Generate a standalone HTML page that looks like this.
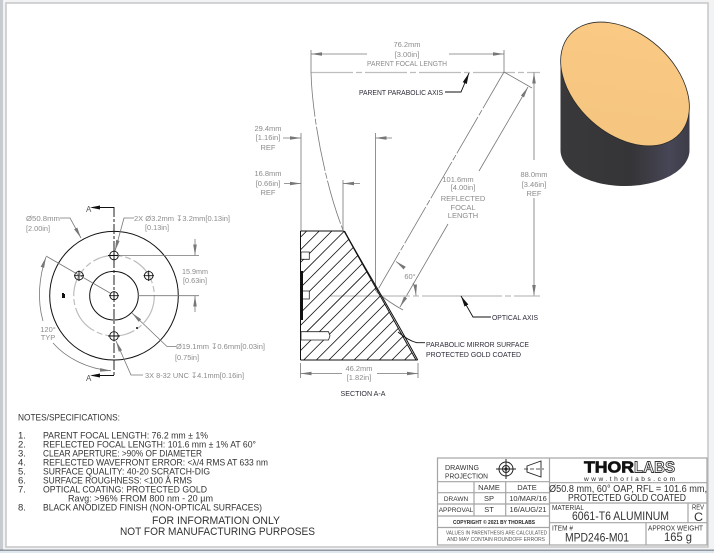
<!DOCTYPE html>
<html><head><meta charset="utf-8"><style>
html,body{margin:0;padding:0;background:#fff}
svg{display:block}
text{font-family:"Liberation Sans",sans-serif}
.d{fill:#8b8b8b;font-size:7.5px}
.k{fill:#2c2c3a;font-size:7.5px}
.n{fill:#333;font-size:9.5px}
.t{fill:#333;font-size:7.5px}
.b{fill:#333;font-size:12px}
.g{stroke:#777;stroke-width:.8;fill:none}
.l{stroke:#111;stroke-width:.9;fill:none}
.c{stroke:#bdbdbd;stroke-width:1.2;fill:none}
.tb{stroke:#a5a5a5;stroke-width:1.2;fill:none}
.soft{filter:blur(.3px)}
</style></head><body>
<svg width="714" height="553" viewBox="0 0 714 553" xmlns="http://www.w3.org/2000/svg">
<defs>
<marker id="a" markerWidth="12" markerHeight="6" refX="11" refY="3" orient="auto-start-reverse" markerUnits="userSpaceOnUse"><path d="M0 1.2L11 3L0 4.8Z" fill="#777"/></marker>
<marker id="kk" markerWidth="12" markerHeight="6" refX="11" refY="3" orient="auto-start-reverse" markerUnits="userSpaceOnUse"><path d="M0 .8L11 3L0 5.2Z" fill="#111"/></marker>
<linearGradient id="body" x1="0" x2="1"><stop offset="0" stop-color="#39393b"/><stop offset=".55" stop-color="#353537"/><stop offset=".85" stop-color="#474656"/><stop offset="1" stop-color="#3c3b47"/></linearGradient>
<linearGradient id="gold" x1="0" x2="1" y1="0" y2="1"><stop offset="0" stop-color="#fbca84"/><stop offset="1" stop-color="#f4c57f"/></linearGradient>
<clipPath id="sec"><path d="M301 231H344L416 360H301Z"/></clipPath>
</defs>

<!-- window frame -->
<rect x="0" y="0" width="714" height="553" fill="#f2f3f5"/>
<rect x="0" y="0" width="3" height="553" fill="#c8ccd0"/>
<rect x="6" y="3" width="702" height="544" fill="#fff" stroke="#c6c6c6" stroke-width="1.5"/>
<rect x="0" y="549.7" width="714" height="1" fill="#555c66"/>
<rect x="0" y="550.7" width="714" height="2.3" fill="#dfe7ef"/>

<g class="soft">
<!-- front view -->
<circle cx="114" cy="295.7" r="40.3" class="c" stroke-dasharray="30 3 6 3"/>
<circle cx="114" cy="295.7" r="64.3" fill="none" stroke="#111" stroke-width="1"/>
<circle cx="114" cy="295.7" r="24.3" fill="none" stroke="#111" stroke-width="1"/>
<path d="M114 207V375.5" stroke="#222" stroke-width="1" stroke-dasharray="10 2 3 2" fill="none"/>
<path d="M114 207.5H92M114 375.5H92" stroke="#111" stroke-width="1" fill="none"/>
<path d="M90 207.5L100 205.5V209.5ZM90 375.5L100 373.5V377.5Z" fill="#111"/>
<g fill="none" stroke="#111" stroke-width=".9">
<circle cx="114" cy="255.5" r="4.3"/><path d="M108 255.5H120M114 250V261"/>
<circle cx="114" cy="336" r="4.3"/><path d="M108 336H120M114 330.5V341.5"/>
<circle cx="79" cy="275.7" r="4.3"/><path d="M74 275.7H84M79 270.5V281"/>
<circle cx="148.7" cy="275.7" r="4.3"/><path d="M143.5 275.7H154M148.7 270.5V281"/>
<circle cx="114" cy="295.7" r="4"/><path d="M109 295.7H119M114 291V300.5"/>
</g>
<path d="M60 218H70L81 238" class="g" marker-end="url(#a)"/>
<path d="M134 218H124L115 251" class="g" marker-end="url(#a)"/>
<path d="M118 255.5H199M138 295.7H199" class="g"/>
<path d="M195 239V255.5" class="g" marker-end="url(#a)"/>
<path d="M195 312V295.7" class="g" marker-end="url(#a)"/>
<path d="M176 346.5H167L132 313" class="g" marker-end="url(#a)"/>
<path d="M143 375H131L116 341" class="g" marker-end="url(#a)"/>
<path d="M110 293L46 256" class="g"/>
<path d="M46 257C39 277 37 300 43 321" class="g" marker-start="url(#a)"/>
<path d="M53 343C66 358 88 369 111 370.7" class="g" marker-end="url(#a)"/>
<path d="M62 293h2v1h1v4h-3z" fill="#111"/><circle cx="137" cy="328" r="1" fill="#111"/>
<text x="86" y="212" font-size="8" fill="#555">A</text>
<text x="86" y="381" font-size="8" fill="#555">A</text>
<text x="26" y="221" class="d" textLength="34" lengthAdjust="spacingAndGlyphs">Ø50.8mm</text>
<text x="26" y="231" class="d" textLength="24" lengthAdjust="spacingAndGlyphs">[2.00in]</text>
<text x="134" y="221" class="d" textLength="96" lengthAdjust="spacingAndGlyphs">2X  Ø3.2mm ↧3.2mm[0.13in]</text>
<text x="145" y="230" class="d" textLength="24" lengthAdjust="spacingAndGlyphs">[0.13in]</text>
<text x="182" y="274" class="d" textLength="26" lengthAdjust="spacingAndGlyphs">15.9mm</text>
<text x="183" y="283" class="d" textLength="24" lengthAdjust="spacingAndGlyphs">[0.63in]</text>
<text x="176" y="349" class="d" textLength="89" lengthAdjust="spacingAndGlyphs">Ø19.1mm ↧0.6mm[0.03in]</text>
<text x="175" y="360" class="d" textLength="24" lengthAdjust="spacingAndGlyphs">[0.75in]</text>
<text x="145" y="378" class="d" textLength="99" lengthAdjust="spacingAndGlyphs">3X 8-32 UNC ↧4.1mm[0.16in]</text>
<text x="48" y="332" class="d" text-anchor="middle">120°</text>
<text x="48" y="340" class="d" text-anchor="middle">TYP</text>

<!-- top dimensions -->
<path d="M311 50V72M504 50V72" class="g"/>
<path d="M367 54H311" class="g" marker-end="url(#a)"/>
<path d="M449 54H504" class="g" marker-end="url(#a)"/>
<path d="M311 72.5H540" class="c" stroke-dasharray="42 3 6 3"/>
<path d="M311 72C312 115 325 185 343 230" class="g" stroke-dasharray="45 2 6 2"/>
<text x="407" y="47" class="d" text-anchor="middle">76.2mm</text>
<text x="407" y="57" class="d" text-anchor="middle">[3.00in]</text>
<text x="407" y="66" class="d" text-anchor="middle" textLength="80" lengthAdjust="spacingAndGlyphs">PARENT FOCAL LENGTH</text>
<text x="359" y="95" class="k" textLength="84" lengthAdjust="spacingAndGlyphs">PARENT PARABOLIC AXIS</text>
<path d="M445 92H461L469 73" class="l" marker-end="url(#kk)"/>

<!-- REF dims -->
<path d="M301 133V231M375.5 133V291M343 180V230" class="g"/>
<path d="M283 138H301" class="g" marker-end="url(#a)"/>
<path d="M284 183.5H301" class="g" marker-end="url(#a)"/>
<path d="M392 138H375.5" class="g" marker-end="url(#a)"/>
<path d="M360 183.5H343" class="g" marker-end="url(#a)"/>
<text x="268" y="131" class="d" text-anchor="middle">29.4mm</text>
<text x="268" y="140" class="d" text-anchor="middle">[1.16in]</text>
<text x="268" y="150" class="d" text-anchor="middle">REF</text>
<text x="268" y="176" class="d" text-anchor="middle">16.8mm</text>
<text x="268" y="186" class="d" text-anchor="middle">[0.66in]</text>
<text x="268" y="195" class="d" text-anchor="middle">REF</text>

<!-- reflected axis -->
<path d="M504 72L376.5 292" class="g" stroke-dasharray="42 2 6 2"/>
<path d="M504 72L532 88M376.5 292C385 299 394 305 403 310" class="g"/>
<path d="M479 171L528 87" class="g" marker-end="url(#a)"/>
<path d="M448 224L400 307" class="g" marker-end="url(#a)"/>
<text x="458" y="182" class="d" text-anchor="middle">101.6mm</text>
<text x="463" y="190" class="d" text-anchor="middle">[4.00in]</text>
<text x="463" y="201" class="d" text-anchor="middle">REFLECTED</text>
<text x="463" y="210" class="d" text-anchor="middle">FOCAL</text>
<text x="463" y="218" class="d" text-anchor="middle">LENGTH</text>

<!-- 88mm -->
<path d="M534 160V72.5" class="g" marker-end="url(#a)"/>
<path d="M534 198V296" class="g" marker-end="url(#a)"/>
<text x="534" y="177" class="d" text-anchor="middle">88.0mm</text>
<text x="534" y="187" class="d" text-anchor="middle">[3.46in]</text>
<text x="534" y="196" class="d" text-anchor="middle">REF</text>

<!-- optical axis -->
<path d="M330 296H540" class="c" stroke-dasharray="80 3 6 3"/>
<path d="M401 266A40 40 0 0 0 396 261.4" class="g" marker-end="url(#a)"/>
<path d="M413 283A40 40 0 0 1 416 295.5" class="g" marker-end="url(#a)"/>
<text x="410" y="279" class="d" text-anchor="middle" font-size="7">60°</text>
<path d="M491 317H473L461 296" class="l" marker-end="url(#kk)"/>
<text x="492" y="320" class="k" textLength="46" lengthAdjust="spacingAndGlyphs">OPTICAL AXIS</text>

<!-- section -->
<g clip-path="url(#sec)" stroke="#111" stroke-width=".8" fill="none">
<path d="M306.7 231L177.7 360M319.3 231L190.3 360M331.9 231L202.9 360M344.5 231L215.5 360M357.1 231L228.1 360M369.7 231L240.7 360M382.3 231L253.3 360M394.9 231L265.9 360M407.5 231L278.5 360M420.1 231L291.1 360M432.7 231L303.7 360M445.3 231L316.3 360M457.9 231L328.9 360M470.5 231L341.5 360M483.1 231L354.1 360M495.7 231L366.7 360M508.3 231L379.3 360M520.9 231L391.9 360M533.5 231L404.5 360"/>
</g>
<path d="M344 231L416 360" stroke="#111" stroke-width="1" fill="none"/>
<path d="M344.5 231C360 260 385 300 417.7 360" stroke="#111" stroke-width="1" fill="none"/>
<path d="M300.5 231H344M300.5 360H417.7M300.5 231V360" stroke="#111" stroke-width="1" fill="none"/>
<path d="M301 252H309.3V259.3H301ZM301 291H309.3V299H301ZM301 331.7H328.5L330 335.8L328.5 340H301Z" fill="#fff" stroke="#222" stroke-width=".8"/>
<rect x="300.5" y="271" width="2.5" height="49" fill="#111"/>
<path d="M300.5 363V378M418 363V378" class="g"/>
<path d="M342 373.5H300.5" class="g" marker-end="url(#a)"/>
<path d="M377 373.5H418" class="g" marker-end="url(#a)"/>
<text x="359" y="371" class="d" text-anchor="middle">46.2mm</text>
<text x="359" y="380" class="d" text-anchor="middle">[1.82in]</text>
<text x="363" y="396" class="k" text-anchor="middle" textLength="45" lengthAdjust="spacingAndGlyphs">SECTION A-A</text>
<path d="M398 332C404 337 410 341 416.7 342.7H425" class="l"/>
<text x="426" y="347" class="k" textLength="103" lengthAdjust="spacingAndGlyphs">PARABOLIC MIRROR SURFACE</text>
<text x="426" y="357" class="k" textLength="95" lengthAdjust="spacingAndGlyphs">PROTECTED GOLD COATED</text>

<!-- mirror render -->
<path d="M560.5 60V150C560.5 170 589 186 625 186S689.5 170 689.5 150V105L625 60Z" fill="url(#body)"/>
<ellipse cx="625" cy="84" rx="74" ry="50" transform="rotate(42 625 84)" fill="url(#gold)" stroke="#2a2a2a" stroke-width=".8"/>

<!-- notes -->
<text x="18" y="420.5" class="n" textLength="102" lengthAdjust="spacingAndGlyphs">NOTES/SPECIFICATIONS:</text>
<g class="n">
<text x="18" y="438.5" class="n">1.</text><text x="43" y="438.5" class="n" textLength="165" lengthAdjust="spacingAndGlyphs">PARENT FOCAL LENGTH: 76.2 mm ± 1%</text>
<text x="18" y="447.5" class="n">2.</text><text x="43" y="447.5" class="n" textLength="213" lengthAdjust="spacingAndGlyphs">REFLECTED FOCAL LENGTH: 101.6 mm ± 1% AT 60°</text>
<text x="18" y="456.5" class="n">3.</text><text x="43" y="456.5" class="n" textLength="159" lengthAdjust="spacingAndGlyphs">CLEAR APERTURE: &gt;90% OF DIAMETER</text>
<text x="18" y="465.5" class="n">4.</text><text x="43" y="465.5" class="n" textLength="225" lengthAdjust="spacingAndGlyphs">REFLECTED WAVEFRONT ERROR: &lt;λ/4 RMS AT 633 nm</text>
<text x="18" y="474.5" class="n">5.</text><text x="43" y="474.5" class="n" textLength="167" lengthAdjust="spacingAndGlyphs">SURFACE QUALITY: 40-20 SCRATCH-DIG</text>
<text x="18" y="483.5" class="n">6.</text><text x="43" y="483.5" class="n" textLength="149" lengthAdjust="spacingAndGlyphs">SURFACE ROUGHNESS: &lt;100 Å RMS</text>
<text x="18" y="492.5" class="n">7.</text><text x="43" y="492.5" class="n" textLength="164" lengthAdjust="spacingAndGlyphs">OPTICAL COATING: PROTECTED GOLD</text>
<text x="68" y="501.5" class="n" textLength="145" lengthAdjust="spacingAndGlyphs">Ravg: &gt;96% FROM 800 nm - 20 µm</text>
<text x="18" y="510.5" class="n">8.</text><text x="43" y="510.5" class="n" textLength="219" lengthAdjust="spacingAndGlyphs">BLACK ANODIZED FINISH (NON-OPTICAL SURFACES)</text>
</g>
<text x="152" y="524" class="n" style="font-size:11px" textLength="128" lengthAdjust="spacingAndGlyphs">FOR INFORMATION ONLY</text>
<text x="120" y="535" class="n" style="font-size:11px" textLength="195" lengthAdjust="spacingAndGlyphs">NOT FOR MANUFACTURING PURPOSES</text>

<!-- title block -->
<rect x="437.5" y="458" width="269.5" height="87" fill="#fff" class="tb"/>
<path d="M549.5 458V545M437.5 481.7H549.5M437.5 492.7H549.5M437.5 504H549.5M437.5 516H549.5M437.5 527.5H549.5M474 481.7V516M505.7 481.7V516M549.5 482.7H707M549.5 503H707M549.5 522.7H707M688 503V522.7M646 522.7V545" class="tb"/>
<text x="445" y="470" class="t" textLength="34" lengthAdjust="spacingAndGlyphs">DRAWING</text>
<text x="445" y="478.5" class="t" textLength="43" lengthAdjust="spacingAndGlyphs">PROJECTION</text>
<g fill="none" stroke="#222" stroke-width="1">
<circle cx="506" cy="469" r="7"/><circle cx="506" cy="469" r="3.5"/><path d="M496 469H516M506 459V479"/>
<path d="M527 466L541 461V477L527 472Z" stroke-width=".9"/><path d="M524 469H544" stroke-dasharray="4 2" stroke-width=".7"/>
</g>
<circle cx="506" cy="469" r="1.6" fill="#222"/>
<g class="t" text-anchor="middle">
<text x="489" y="490" class="t">NAME</text><text x="527" y="490" class="t">DATE</text>
<text x="456" y="501" class="t" style="font-size:6.5px">DRAWN</text><text x="489" y="501" class="t">SP</text><text x="528" y="501" class="t">10/MAR/16</text>
<text x="456" y="512" class="t" style="font-size:6.5px">APPROVAL</text><text x="489" y="512" class="t">ST</text><text x="528" y="512" class="t">16/AUG/21</text>
</g>
<text x="453" y="524" style="font-size:5.5px;font-weight:bold" fill="#222" textLength="82" lengthAdjust="spacingAndGlyphs">COPYRIGHT © 2021 BY THORLABS</text>
<text x="446" y="534.5" style="font-size:5.2px" fill="#555" textLength="101" lengthAdjust="spacingAndGlyphs">VALUES IN PARENTHESIS ARE CALCULATED</text>
<text x="447" y="541" style="font-size:5.2px" fill="#555" textLength="98" lengthAdjust="spacingAndGlyphs">AND MAY CONTAIN ROUNDOFF ERRORS</text>
<text x="584" y="472.5" style="font-size:16px;font-weight:bold" fill="#111" stroke="#111" stroke-width=".7" textLength="50" lengthAdjust="spacingAndGlyphs">THOR</text>
<text x="634" y="472.5" style="font-size:16px;font-weight:bold" fill="#fff" stroke="#333" stroke-width=".9" textLength="41" lengthAdjust="spacingAndGlyphs">LABS</text>
<text x="584" y="481" style="font-size:6.5px" fill="#222" textLength="91" lengthAdjust="spacing">www.thorlabs.com</text>
<text x="549" y="492" class="b" style="font-size:10px" textLength="158" lengthAdjust="spacingAndGlyphs">Ø50.8 mm, 60° OAP, RFL = 101.6 mm,</text>
<text x="568" y="501" class="b" style="font-size:10px" textLength="118" lengthAdjust="spacingAndGlyphs">PROTECTED GOLD COATED</text>
<text x="552" y="510" class="t" textLength="32" lengthAdjust="spacingAndGlyphs">MATERIAL</text>
<text x="572" y="520" class="b" textLength="97" lengthAdjust="spacingAndGlyphs">6061-T6 ALUMINUM</text>
<text x="692" y="509.5" class="t" textLength="12" lengthAdjust="spacingAndGlyphs">REV</text>
<text x="694" y="521" class="b" textLength="9" lengthAdjust="spacingAndGlyphs">C</text>
<text x="552" y="530.5" class="t" textLength="21" lengthAdjust="spacingAndGlyphs">ITEM #</text>
<text x="565" y="541.5" class="b" textLength="64" lengthAdjust="spacingAndGlyphs">MPD246-M01</text>
<text x="648" y="530.5" class="t" textLength="55" lengthAdjust="spacingAndGlyphs">APPROX WEIGHT</text>
<text x="664" y="541" class="b" textLength="28" lengthAdjust="spacingAndGlyphs">165 g</text>
</g>
</svg>
</body></html>
